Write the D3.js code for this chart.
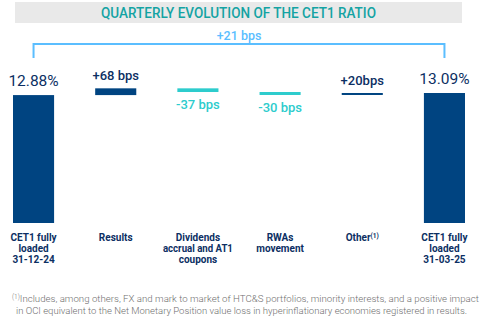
<!DOCTYPE html>
<html><head><meta charset="utf-8">
<script src="https://cdn.jsdelivr.net/npm/d3@7"></script>
<style>body{margin:0;background:#fff}svg{display:block}</style>
</head><body>
<svg id="c" width="482" height="321"></svg>
<script>
const categories = ["start","results","dividends","rwas","other","end"];
const categoryLabels = [["CET1 fully","loaded","31-12-24"],["Results"],["Dividends","accrual and AT1","coupons"],["RWAs","movement"],["Other"],["CET1 fully","loaded","31-03-25"]];
const values = [12.88, 0.68, -0.37, -0.30, 0.20, 13.09];
const kinds = ["total","delta","delta","delta","delta","total"];
const valueLabels = ["12.88%","+68 bps","-37 bps","-30 bps","+20bps","13.09%"];
const title = "QUARTERLY EVOLUTION OF THE CET1 RATIO";
const bracketLabel = "+21 bps";
const footLines = ["Includes, among others, FX and mark to market of HTC&S portfolios, minority interests, and a positive impact","in OCI equivalent to the Net Monetary Position value loss in hyperinflationary economies registered in results."];

const NAVY="#004481", AQUA="#2dcccd", LBLUE="#5bbeff", TXT="#0c2f63";
const svg = d3.select("#c");

// title band
svg.append("rect").attr("x",15).attr("y",2).attr("width",447).attr("height",21).attr("fill","#e9e9e9");
svg.append("text").attr("x",238.5).attr("y",18).attr("text-anchor","middle")
  .attr("font-family","Roboto").attr("font-weight",500).attr("font-size",14)
  .attr("fill","#14a3a3").attr("textLength",275).attr("lengthAdjust","spacingAndGlyphs").text(title);

const x = d3.scaleBand().domain(categories).range([13,465]).paddingInner(0.5).paddingOuter(0);
const y = d3.scaleLinear().domain([0,13.09]).range([223,93]);

// compute waterfall
let run=0; const bars=[];
values.forEach((v,i)=>{
  if(kinds[i]==="total"){ bars.push({c:categories[i],y0:0,y1:v,v,i}); run=v; }
  else { bars.push({c:categories[i],y0:run,y1:run+v,v,i}); run+=v; }
});

svg.selectAll("rect.bar").data(bars).join("rect").attr("class","bar")
  .attr("x",d=>x(d.c)).attr("width",x.bandwidth())
  .attr("y",d=>y(Math.max(d.y0,d.y1))).attr("height",d=>Math.abs(y(d.y0)-y(d.y1)))
  .attr("fill",d=>d.v<0?AQUA:NAVY);

// value labels
svg.selectAll("text.val").data(bars).join("text").attr("class","val")
  .attr("x",d=>x(d.c)+x.bandwidth()/2)
  .attr("y",d=>{
    const top=y(Math.max(d.y0,d.y1)), bot=y(Math.min(d.y0,d.y1));
    if(kinds[d.i]==="total") return top-9;
    return d.v<0 ? bot+17 : top-8;
  })
  .attr("text-anchor","middle").attr("font-family","Roboto")
  .attr("font-size",d=>kinds[d.i]==="total"?15.5:13)
  .attr("font-weight",d=>kinds[d.i]==="total"?400:500)
  .attr("fill",d=>d.v<0?AQUA:TXT)
  .text(d=>valueLabels[d.i]);

// bracket
const xa = x(categories[0])+x.bandwidth()/2, xb = x(categories[5])+x.bandwidth()/2;
svg.append("path").attr("d",`M${xa},58V44H${xb}V58`).attr("fill","none").attr("stroke",LBLUE).attr("stroke-width",2);
svg.append("text").attr("x",(xa+xb)/2).attr("y",40).attr("text-anchor","middle")
  .attr("font-family","Roboto").attr("font-weight",500).attr("font-size",12.5).attr("fill",LBLUE).text(bracketLabel);

// category labels (one text per line)
categories.forEach((c,i)=>{
  const cx = x(c)+x.bandwidth()/2;
  if(c==="other"){
    const t = svg.append("text").attr("x",cx).attr("y",241)
      .attr("text-anchor","middle").attr("font-family","Roboto").attr("font-weight",700)
      .attr("font-size",10).attr("fill",TXT);
    t.append("tspan").text("Other");
    t.append("tspan").attr("font-size",6.5).attr("dy",-3).text("(1)");
  } else {
    categoryLabels[i].forEach((l,j)=>{
      svg.append("text").attr("x",cx).attr("y",241+j*11)
        .attr("text-anchor","middle").attr("font-family","Roboto").attr("font-weight",700)
        .attr("font-size",10).attr("fill",TXT).attr("textLength",l.length>12?70:null)
        .attr("lengthAdjust","spacingAndGlyphs").text(l);
    });
  }
});

// footnote
const fn = svg.append("text").attr("x",12).attr("y",302).attr("font-family","Roboto").attr("font-weight",300)
  .attr("font-size",9).attr("fill","#6f6f6f");
fn.append("tspan").attr("font-size",6.5).attr("dy",-3).text("(1)");
fn.append("tspan").attr("dy",3).attr("textLength",459).attr("lengthAdjust","spacingAndGlyphs").text(footLines[0]);
svg.append("text").attr("x",16).attr("y",314).attr("font-family","Roboto").attr("font-weight",300)
  .attr("font-size",9).attr("fill","#6f6f6f").attr("textLength",451).attr("lengthAdjust","spacingAndGlyphs").text(footLines[1]);
</script>
</body></html>
